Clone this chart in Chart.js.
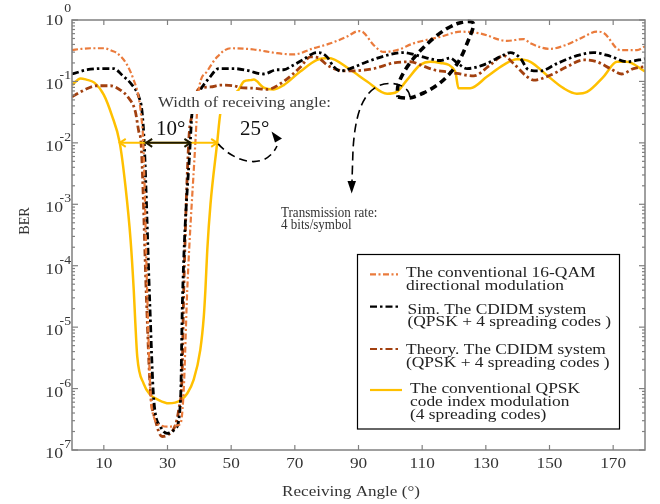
<!DOCTYPE html>
<html>
<head>
<meta charset="utf-8">
<script src="https://cdn.jsdelivr.net/npm/chart.js@4.4.0/dist/chart.umd.min.js"></script>
<style>
  html, body { margin: 0; padding: 0; background: #fff; }
</style>
</head>
<body>
<canvas id="berChart" width="660" height="504"></canvas>
<script>
// BER vs receiving angle (angle in degrees, BER linear)
const qamAngle = [0, 3, 5.8, 10, 12.5, 14.2, 17.3, 19.4, 21, 21.7, 22.4, 23.6, 24.6, 25.7, 28, 30.4, 33, 34.1, 35.1, 36.2, 38.8, 39.2, 39.8, 42.4, 45.6, 49.8, 57.1, 64.4, 69.6, 75.9, 81.2, 86.4, 90, 91.5, 94.8, 97.9, 102.1, 107.3, 112.6, 116, 122, 128.3, 136.6, 141.9, 144, 150.2, 155, 159.7, 164.9, 167, 172.2, 177.5, 180];
const qamBer = [0.324, 0.339, 0.347, 0.347, 0.316, 0.288, 0.186, 0.105, 0.0537, 0.0282, 0.01, 3.98e-5, 9.55e-7, 3.47e-7, 2.51e-7, 2.40e-7, 2.51e-7, 2.69e-7, 9.55e-7, 3.98e-5, 0.0112, 0.0269, 0.0724, 0.145, 0.251, 0.347, 0.331, 0.288, 0.275, 0.347, 0.417, 0.537, 0.661, 0.631, 0.389, 0.302, 0.324, 0.417, 0.490, 0.537, 0.646, 0.603, 0.457, 0.490, 0.417, 0.339, 0.389, 0.501, 0.646, 0.617, 0.324, 0.324, 0.372];

const simAngle = [0, 4.8, 10, 13.1, 15.8, 18.9, 21, 22, 22.7, 24.4, 25.7, 27.8, 29.9, 32.5, 34.1, 34.7, 37.2, 37.7, 40.3, 43, 46.1, 50.8, 55, 60.2, 64.4, 66.5, 69, 72.5, 75.9, 77.5, 80.1, 82.2, 84.3, 87.4, 92.7, 100, 104.2, 107.3, 111.5, 115.7, 118.8, 121, 124.1, 129.3, 135.6, 137.7, 140.8, 143.4, 147.1, 152.3, 158.6, 163.8, 169.1, 174.3, 180];
const simBer = [0.132, 0.155, 0.162, 0.162, 0.126, 0.0871, 0.0562, 0.0324, 0.00977, 2.75e-5, 6.46e-7, 2.40e-7, 1.86e-7, 2.24e-7, 6.46e-7, 2.75e-5, 0.0112, 0.0302, 0.0724, 0.112, 0.162, 0.162, 0.151, 0.132, 0.155, 0.155, 0.178, 0.224, 0.288, 0.295, 0.251, 0.174, 0.148, 0.162, 0.209, 0.275, 0.295, 0.275, 0.240, 0.219, 0.240, 0.200, 0.162, 0.186, 0.269, 0.295, 0.240, 0.155, 0.148, 0.195, 0.263, 0.295, 0.257, 0.209, 0.234];

const theoryAngle = [0, 2.7, 7.9, 12.1, 15.2, 17.8, 19.9, 21, 21.7, 23.4, 24.6, 26.2, 28.3, 29.9, 32.5, 33.5, 34.6, 35.1, 36.7, 37.7, 39.8, 43.5, 46.6, 50.8, 52.9, 57.1, 61.3, 66.5, 71.7, 74.9, 77.5, 80.1, 83.3, 87.4, 94.8, 101, 106.3, 109.4, 113.6, 118.8, 120.9, 126.2, 131.4, 135.6, 138.7, 142.9, 145, 150.2, 155.5, 160.7, 164.9, 169.1, 172.7, 176.4, 180];
const theoryBer = [0.0562, 0.0676, 0.0851, 0.0851, 0.0724, 0.0537, 0.0324, 0.0151, 0.00977, 2.75e-5, 9.55e-7, 3.09e-7, 1.66e-7, 1.74e-7, 2.57e-7, 4.47e-7, 1.78e-6, 3.98e-5, 0.0112, 0.0282, 0.0759, 0.0813, 0.0871, 0.0851, 0.0794, 0.0776, 0.0741, 0.1, 0.170, 0.251, 0.240, 0.186, 0.155, 0.148, 0.162, 0.200, 0.209, 0.186, 0.155, 0.141, 0.135, 0.123, 0.186, 0.263, 0.195, 0.120, 0.105, 0.126, 0.174, 0.224, 0.209, 0.162, 0.132, 0.162, 0.174];

const qpskAngle = [0, 2.7, 4.5, 7, 10, 12.5, 15, 16.8, 18.4, 19.4, 19.9, 20.5, 22.5, 24.6, 27, 30.4, 34.1, 36.2, 38.2, 40.3, 41.4, 41.9, 42.5, 43.5, 45.6, 46.6, 48.7, 52.3, 54, 56, 57.1, 60.2, 63.4, 66.5, 71.7, 77, 80.6, 87.4, 92.7, 99, 102, 105.2, 109.4, 112.6, 115.7, 120.4, 121.4, 125.1, 130.4, 135.6, 139.8, 144, 149.2, 154.4, 158.6, 161.8, 167, 171.2, 174.3, 180];
const qpskBer = [0.0871, 0.112, 0.107, 0.0955, 0.0603, 0.0282, 0.01, 0.00195, 2.63e-4, 3.98e-5, 1.15e-5, 3.31e-6, 1.20e-6, 7.94e-7, 6.61e-7, 5.75e-7, 6.46e-7, 8.32e-7, 1.38e-6, 4.27e-6, 1.48e-5, 3.98e-5, 1.82e-4, 0.001, 0.01, 0.0302, 0.0501, 0.0724, 0.1, 0.105, 0.107, 0.0794, 0.0741, 0.0871, 0.145, 0.224, 0.240, 0.155, 0.1, 0.0631, 0.0676, 0.105, 0.186, 0.209, 0.2, 0.145, 0.0776, 0.0776, 0.120, 0.186, 0.229, 0.209, 0.126, 0.0776, 0.0631, 0.0676, 0.120, 0.209, 0.209, 0.145];

const xTicks = [10, 30, 50, 70, 90, 110, 130, 150, 170];
const yDecades = [0, -1, -2, -3, -4, -5, -6, -7];

const legendLabels = [
    ['The conventional 16-QAM', 'directional modulation'],
    ['Sim. The CDIDM system', '(QPSK + 4 spreading codes )'],
    ['Theory. The CDIDM system', '(QPSK + 4 spreading codes )'],
    ['The conventional QPSK', 'code index modulation', '(4 spreading codes)']
];

const ORANGE = '#EA7B3C';
const BLACK = '#000000';
const BROWN = '#A2400F';
const GOLD = '#FFC000';
const FONT = '"Liberation Serif", "Times New Roman", serif';

function toPoints(angles, bers) {
    return angles.map((a, i) => ({ x: a, y: bers[i] }));
}

// text with a horizontal stretch (the original figure is slightly widened)
function txt(ctx, s, x, y, size, align, sx, color) {
    ctx.save();
    ctx.font = size + 'px ' + FONT;
    ctx.fillStyle = color || '#333';
    ctx.textAlign = align || 'left';
    ctx.textBaseline = 'alphabetic';
    ctx.translate(x, y);
    ctx.scale(sx || 1, 1);
    ctx.fillText(s, 0, 0);
    ctx.restore();
}

function line(ctx, x1, y1, x2, y2) {
    ctx.beginPath();
    ctx.moveTo(x1, y1);
    ctx.lineTo(x2, y2);
    ctx.stroke();
}

function smoothPath(ctx, pts) {
    ctx.beginPath();
    ctx.moveTo(pts[0][0], pts[0][1]);
    for (let i = 1; i < pts.length - 1; i++) {
        const mx = (pts[i][0] + pts[i + 1][0]) / 2;
        const my = (pts[i][1] + pts[i + 1][1]) / 2;
        ctx.quadraticCurveTo(pts[i][0], pts[i][1], mx, my);
    }
    const last = pts[pts.length - 1];
    ctx.lineTo(last[0], last[1]);
}

function openHead(ctx, x, y, dir) {
    // dir = -1 points left, +1 points right
    ctx.beginPath();
    ctx.moveTo(x - dir * 6, y - 4);
    ctx.lineTo(x, y);
    ctx.lineTo(x - dir * 6, y + 4);
    ctx.stroke();
}

function tri(ctx, p1, p2, p3) {
    ctx.beginPath();
    ctx.moveTo(p1[0], p1[1]);
    ctx.lineTo(p2[0], p2[1]);
    ctx.lineTo(p3[0], p3[1]);
    ctx.closePath();
    ctx.fill();
}

const decor = {
    id: 'decor',
    afterDatasetsDraw(chart) {
        const { ctx, chartArea: a, scales: { x, y } } = chart;
        ctx.save();

        // white band behind the "Width of receiving angle" label
        ctx.fillStyle = '#fff';
        ctx.fillRect(150, 91, 195, 23);

        // width arrows at BER = 1e-2
        const yArr = y.getPixelForValue(1e-2);
        ctx.lineWidth = 2;
        ctx.strokeStyle = GOLD;
        const gx1 = x.getPixelForValue(15), gx2 = x.getPixelForValue(45.6);
        line(ctx, gx1, yArr, gx2, yArr);
        openHead(ctx, gx1, yArr, -1);
        openHead(ctx, gx2, yArr, 1);
        ctx.strokeStyle = '#1c1800';
        const bx1 = x.getPixelForValue(23.3), bx2 = x.getPixelForValue(37.2);
        line(ctx, bx1, yArr, bx2, yArr);
        openHead(ctx, bx1, yArr, -1);
        openHead(ctx, bx2, yArr, 1);

        // curved dashed arrow next to 25°
        ctx.strokeStyle = '#000';
        ctx.fillStyle = '#000';
        ctx.lineWidth = 1.6;
        ctx.setLineDash([8, 5]);
        ctx.beginPath();
        ctx.moveTo(gx2 + 1, yArr + 1);
        ctx.bezierCurveTo(232, 160, 264, 173, 277, 146);
        ctx.stroke();
        ctx.setLineDash([]);
        tri(ctx, [271.5, 131.5], [282, 138.5], [275, 142.5]);

        // thick dashed loop
        ctx.lineWidth = 3.6;
        ctx.setLineDash([7, 4.5]);
        smoothPath(ctx, [[398, 97], [407, 99], [417, 96], [430, 90], [443, 81], [454, 69], [462, 56],
            [468, 41], [473, 29], [474, 23], [470, 21], [462, 22], [453, 25], [441, 32], [428, 43],
            [417, 54], [409, 64], [402, 75], [397, 87], [398, 97]]);
        ctx.stroke();

        // thin dashed arrow down to the rate label
        ctx.lineWidth = 1.6;
        ctx.setLineDash([9, 5]);
        ctx.beginPath();
        ctx.moveTo(410, 97);
        ctx.bezierCurveTo(409, 85, 392, 80, 378, 86);
        ctx.bezierCurveTo(362, 94, 355, 116, 353, 150);
        ctx.lineTo(352, 181);
        ctx.stroke();
        ctx.setLineDash([]);
        tri(ctx, [347.5, 181], [356, 181], [351.7, 193.5]);

        // annotation text
        txt(ctx, 'Width of receiving angle:', 158, 107, 15, 'left', 1.13, '#3a3a3a');
        txt(ctx, '10°', 156, 135, 21, 'left', 1.0, '#111');
        txt(ctx, '25°', 240, 135, 21, 'left', 1.0, '#111');
        txt(ctx, 'Transmission rate:', 281, 217, 14.5, 'left', 0.9, '#333');
        txt(ctx, '4 bits/symbol', 281, 228.5, 14.5, 'left', 0.9, '#333');

        // frame
        ctx.strokeStyle = '#808080';
        ctx.lineWidth = 1.5;
        ctx.strokeRect(a.left, a.top, a.right - a.left, a.bottom - a.top);

        // x ticks and labels
        ctx.lineWidth = 1.2;
        xTicks.forEach(v => {
            const px = x.getPixelForValue(v);
            line(ctx, px, a.bottom, px, a.bottom - 5);
            line(ctx, px, a.top, px, a.top + 5);
            txt(ctx, String(v), px, a.bottom + 18, 15, 'center', 1.15, '#333');
        });

        // y ticks (log minor ticks too) and 10^n labels
        yDecades.forEach(d => {
            const py = y.getPixelForValue(Math.pow(10, d));
            line(ctx, a.left, py, a.left + 6, py);
            line(ctx, a.right, py, a.right - 6, py);
            if (d < 0) {
                for (let k = 2; k <= 9; k++) {
                    const pm = y.getPixelForValue(k * Math.pow(10, d));
                    line(ctx, a.left, pm, a.left + 3, pm);
                    line(ctx, a.right, pm, a.right - 3, pm);
                }
            }
            const top = d === 0;
            txt(ctx, '10', a.left - 9, py + (top ? 5 : 8), 15, 'right', 1.18, '#333');
            txt(ctx, String(d), a.left - 1, py - (top ? 8 : 2), 12.5, 'right', 1.1, '#333');
        });

        // axis titles
        txt(ctx, 'Receiving Angle (°)', 351, 496, 15, 'center', 1.14, '#333');
        ctx.save();
        ctx.translate(29, 221);
        ctx.rotate(-Math.PI / 2);
        txt(ctx, 'BER', 0, 0, 15, 'center', 0.95, '#333');
        ctx.restore();

        // legend
        ctx.fillStyle = '#fff';
        ctx.fillRect(357.5, 254.5, 262, 174.5);
        ctx.strokeStyle = '#000';
        ctx.lineWidth = 1.2;
        ctx.strokeRect(357.5, 254.5, 262, 174.5);
        const rows = [
            { sy: 274.3, ty: 277, tx: 406, x2: 398 },
            { sy: 306.7, ty: 313.5, tx: 407.5, x2: 398 },
            { sy: 349, ty: 354, tx: 406, x2: 398 },
            { sy: 390, ty: 393, tx: 410, x2: 402 }
        ];
        chart.data.datasets.forEach((ds, i) => {
            const r = rows[i];
            ctx.strokeStyle = ds.borderColor;
            ctx.lineWidth = 2.2;
            ctx.setLineDash(ds.borderDash || []);
            line(ctx, 370, r.sy, r.x2, r.sy);
            ctx.setLineDash([]);
            legendLabels[i].forEach((s, j) => {
                txt(ctx, s, r.tx, r.ty + j * 12.8, 15, 'left', 1.16, '#222');
            });
        });

        ctx.restore();
    }
};

const ctx = document.getElementById('berChart').getContext('2d');
new Chart(ctx, {
    type: 'line',
    data: {
        datasets: [
            {
                label: 'The conventional 16-QAM directional modulation',
                data: toPoints(qamAngle, qamBer),
                borderColor: ORANGE,
                borderWidth: 2.2,
                borderDash: [6, 2.5, 2, 2.5]
            },
            {
                label: 'Sim. The CDIDM system',
                data: toPoints(simAngle, simBer),
                borderColor: BLACK,
                borderWidth: 2.8,
                borderDash: [7, 3, 2.5, 3]
            },
            {
                label: 'Theory. The CDIDM system',
                data: toPoints(theoryAngle, theoryBer),
                borderColor: BROWN,
                borderWidth: 2.8,
                borderDash: [7, 3, 2.5, 3]
            },
            {
                label: 'The conventional QPSK code index modulation',
                data: toPoints(qpskAngle, qpskBer),
                borderColor: GOLD,
                borderWidth: 2.5
            }
        ]
    },
    options: {
        responsive: false,
        animation: false,
        devicePixelRatio: 1,
        layout: { padding: { left: 72, right: 15, top: 20, bottom: 54 } },
        elements: {
            point: { radius: 0 },
            line: { cubicInterpolationMode: 'monotone', fill: false }
        },
        plugins: {
            legend: { display: false },
            tooltip: { enabled: false }
        },
        scales: {
            x: { type: 'linear', min: 0, max: 180, display: false },
            y: { type: 'logarithmic', min: 1e-7, max: 1, display: false }
        }
    },
    plugins: [decor]
});
</script>
</body>
</html>
